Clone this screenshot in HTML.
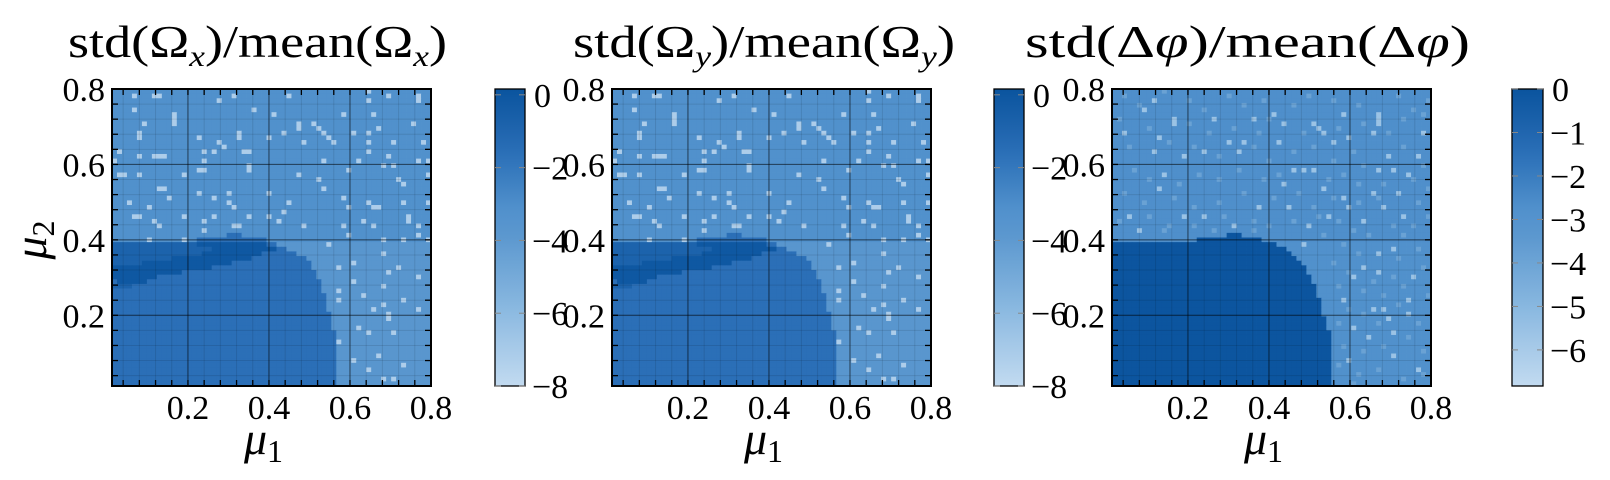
<!DOCTYPE html>
<html><head><meta charset="utf-8">
<style>
html,body{margin:0;padding:0;background:#fff;}
svg{display:block;}
svg text{font-family:"Liberation Serif","DejaVu Serif",serif;}
</style></head>
<body>
<svg id="chart" width="1610" height="480" viewBox="0 0 1610 480" xmlns="http://www.w3.org/2000/svg">
<g id="titles">
<text x="68" y="57" font-size="46" textLength="379" lengthAdjust="spacingAndGlyphs">std(Ω<tspan font-style="italic" font-size="30" dy="9">x</tspan><tspan dy="-9">)/mean(Ω</tspan><tspan font-style="italic" font-size="30" dy="9">x</tspan><tspan dy="-9">)</tspan></text>
<text x="573" y="57" font-size="46" textLength="382" lengthAdjust="spacingAndGlyphs">std(Ω<tspan font-style="italic" font-size="30" dy="9">y</tspan><tspan dy="-9">)/mean(Ω</tspan><tspan font-style="italic" font-size="30" dy="9">y</tspan><tspan dy="-9">)</tspan></text>
<text x="1025" y="57" font-size="46" textLength="445" lengthAdjust="spacingAndGlyphs">std(Δ<tspan font-style="italic">φ</tspan>)/mean(Δ<tspan font-style="italic">φ</tspan>)</text>
</g>
<text transform="translate(46,240) rotate(-90)" text-anchor="middle" font-size="46" font-style="italic">μ<tspan font-style="normal" font-size="32" dy="8">2</tspan></text>
</svg>
<script>
// ---- data ----
const mu1Min = 0.0125, mu1Max = 0.8, mu2Min = 0.0125, mu2Max = 0.8;
const nCols = 64, nRows = 64;
const xTicks = [0.2, 0.4, 0.6, 0.8];
const yTicks = [0.2, 0.4, 0.6, 0.8];
const xTickLabels = ["0.2", "0.4", "0.6", "0.8"];
const yTickLabels = ["0.2", "0.4", "0.6", "0.8"];
const cbTicks12 = [0, -2, -4, -6, -8];
const cbTicks3 = [0, -1, -2, -3, -4, -5, -6];
const cbRange12 = [-8, 0.16];
const cbRange3 = [-6.83, 0];
// region values (log scale)
const levels1 = {bg: -3.2, right: -3.7, dark: -1.64, mid: -0.82, darkest: -0.1, speck: -7.2};
const levels3 = {bg: -2.7, right: -2.8, dark: -0.08, mid: -0.08, darkest: -0.08, speck: -5.6, mild: -3.9};
const darkFirstRow = 31;
const darkStart1 = [23,17,0,0,0,0,0,0,0,0,0,0,0,0,0,0,0,0,0,0,0,0,0,0,0,0,0,0,0,0,0,0,0];
const darkEnd1 = [26,31,33,35,37,39,40,40,41,41,42,42,42,43,43,43,43,44,44,44,44,45,45,45,45,45,45,45,45,45,45,45,45];
const darkStart3 = [23,17,0,0,0,0,0,0,0,0,0,0,0,0,0,0,0,0,0,0,0,0,0,0,0,0,0,0,0,0,0,0,0];
const darkEnd3 = [26,30,33,35,36,37,38,39,39,40,40,41,41,41,42,42,42,42,43,43,43,44,44,44,44,44,44,44,44,44,44,44,44];
const streak1 = [[33,17,31],[34,20,33],[35,18,30],[36,12,28],[37,6,24],[38,0,20],[39,0,14],[40,0,9],[41,1,7]];
const mid1 = [[33,0,17],[34,0,20],[35,0,18],[36,0,12],[37,0,6],[42,0,4]];
const specks1 = [[4,1],[8,1],[9,1],[4,4],[12,5],[12,6],[12,7],[6,7],[21,2],[24,1],[28,4],[32,5],[35,1],[37,7],[37,8],[40,7],[41,8],[42,9],[43,10],[44,11],
[51,0],[51,2],[55,1],[61,1],[61,2],[52,5],[60,7],[46,5],[48,9],[51,9],[53,8],[51,11],[56,11],[62,11],
[5,10],[5,9],[17,10],[21,11],[25,9],[25,10],[31,10],[34,9],[38,11],
[1,13],[8,14],[9,14],[10,14],[5,14],[18,13],[20,13],[22,12],[26,13],[27,13],[18,15],[42,15],[49,15],[51,13],[55,14],[61,15],[63,15],
[0,15],[1,18],[2,18],[5,18],[14,18],[17,17],[18,17],[27,17],[27,16],[37,18],[41,19],[47,17],[54,16],[56,16],[57,19],[58,20],[63,18],
[9,21],[10,21],[11,23],[7,25],[17,22],[20,23],[23,22],[23,24],[24,25],[31,22],[35,24],[42,21],[46,23],[47,25],[51,24],[52,25],[53,25],[58,24],[63,24],
[3,24],[4,27],[5,27],[8,28],[9,29],[14,27],[18,28],[20,27],[24,29],[25,29],[27,27],[31,27],[33,28],[34,26],[38,29],[46,29],[50,28],[52,29],[59,27],[59,28],[61,29],
[7,32],[14,32],[18,30],[47,31],[54,32],[58,32],[61,31],[63,32],
[43,33],[45,38],[48,37],[54,35],[57,38],[55,39],[61,40],[48,41],[45,43],[45,45],[50,44],[54,42],[58,45],[52,47],[54,46],[55,48],[61,47],[55,49],[49,51],[51,52],[56,52],[45,54],[48,58],[53,57],[51,60],[58,59],[56,62],[54,62]];
const specks2 = specks1;
const specks3 = [[8,2],[12,6],[12,7],[20,6],[28,6],[32,5],[34,7],[40,7],[41,8],[42,9],[47,10],[53,5],[53,6],[53,7],[52,9],[46,5],[44,11],[33,11],[26,11],[23,11],
[8,13],[18,13],[25,13],[38,17],[40,17],[36,17],[42,21],[34,20],[46,23],[47,25],[43,27],[39,29],[38,33],[14,27],[18,27],[24,29],[29,25],[35,25],[50,28],[55,14],[53,17],[56,17],[59,18],[54,25],[58,27],[57,22],[52,22],[61,14],[62,9],[6,4],[2,9],[9,21],[10,18],[14,14],[9,10],[5,30],[3,27],
[52,47],[54,47],[55,49],[48,40],[50,38],[59,45],[60,40],[46,45],[51,53],[56,57],[61,60],[47,58],[56,52],[59,48],[48,51],[53,39],[53,35],[56,34]];
const mild3 = [[2,1],[5,3],[10,0],[15,2],[18,4],[23,1],[26,3],[30,2],[36,3],[39,1],[44,2],[49,3],[57,1],[60,4],[63,2],[1,6],[7,8],[15,7],[19,9],[24,8],[29,9],[31,6],[38,9],[45,8],[50,7],[55,9],[58,6],[62,5],
[3,12],[11,11],[16,12],[21,14],[28,12],[31,15],[36,13],[40,12],[44,15],[48,13],[50,16],[58,12],[62,16],[4,17],[7,19],[13,20],[17,18],[21,19],[25,17],[30,19],[33,18],[43,19],[46,18],[49,20],[54,20],[60,19],[63,21],
[2,22],[6,24],[12,23],[16,25],[21,24],[26,22],[32,23],[37,22],[40,25],[44,23],[49,24],[53,23],[61,24],[1,28],[7,27],[11,29],[16,29],[22,27],[28,28],[31,29],[36,28],[41,27],[45,28],[48,30],[56,29],[60,29],[63,27],
[10,30],[20,30],[28,30],[42,31],[51,31],[58,31],[46,33],[49,35],[57,36],[61,34],[44,37],[47,39],[52,41],[56,40],[62,38],[45,42],[50,43],[54,44],[58,42],[63,44],[47,47],[50,48],[57,46],[61,50],[45,50],[53,50],[59,53],[46,55],[50,56],[54,55],[62,56],[45,59],[49,61],[53,60],[58,62],[62,61],[48,63]];

// ---- layout ----
const panels = [
  {id:'omega-x', left:112, top:89, w:319, h:297, cbX:495, cbW:30, range:cbRange12, ticks:cbTicks12, lev:levels1, dS:darkStart1, dE:darkEnd1, streak:streak1, mid:mid1, specks:specks1, mild:[]},
  {id:'omega-y', left:612, top:89, w:319, h:297, cbX:994, cbW:30, range:cbRange12, ticks:cbTicks12, lev:levels1, dS:darkStart1, dE:darkEnd1, streak:streak1, mid:mid1, specks:specks2, mild:[]},
  {id:'delta-phi', left:1112, top:89, w:319, h:297, cbX:1512, cbW:31, range:cbRange3, ticks:cbTicks3, lev:levels3, dS:darkStart3, dE:darkEnd3, streak:[], mid:[], specks:specks3, mild:mild3}
];
const stops = [[0,[194,218,240]],[0.25,[140,186,225]],[0.5,[92,152,207]],[0.6,[80,144,204]],[0.78,[43,111,183]],[1,[10,84,158]]];
function cmap(t){
  t=Math.max(0,Math.min(1,t));
  for(let i=1;i<stops.length;i++){
    if(t<=stops[i][0]){
      const a=stops[i-1],b=stops[i],f=(t-a[0])/(b[0]-a[0]);
      const c=a[1].map((v,k)=>Math.round(v+(b[1][k]-v)*f));
      return 'rgb('+c.join(',')+')';
    }
  }
  return 'rgb(10,84,158)';
}
const NS='http://www.w3.org/2000/svg';
const svg=document.getElementById('chart');
function mk(tag,attrs,parent){const e=document.createElementNS(NS,tag);for(const k in attrs)e.setAttribute(k,attrs[k]);(parent||svg).appendChild(e);return e;}

panels.forEach(p=>{
  const xS=v=>p.left+(v-mu1Min)/(mu1Max-mu1Min)*p.w;
  const yS=v=>p.top+(mu2Max-v)/(mu2Max-mu2Min)*p.h;
  const cS=v=>p.top+(p.range[1]-v)/(p.range[1]-p.range[0])*p.h;
  const colorOf=v=>cmap((v-p.range[0])/(p.range[1]-p.range[0]));
  const grid=[];
  for(let r=0;r<nRows;r++){grid.push(new Array(nCols).fill(p.lev.bg));}
  for(let i=0;i<p.dE.length;i++){
    const r=darkFirstRow+i;
    for(let c=0;c<nCols;c++){
      if(c>=p.dS[i]&&c<p.dE[i]) grid[r][c]=p.lev.dark;
      else if(i>=2&&c>=p.dE[i]) grid[r][c]=p.lev.right;
    }
  }
  p.mid.forEach(s=>{for(let c=s[1];c<s[2];c++)grid[s[0]][c]=p.lev.mid;});
  p.streak.forEach(s=>{for(let c=s[1];c<s[2];c++)grid[s[0]][c]=p.lev.darkest;});
  p.mild.forEach(s=>{if(grid[s[1]][s[0]]!==p.lev.dark)grid[s[1]][s[0]]=p.lev.mild;});
  p.specks.forEach(s=>{grid[s[1]][s[0]]=p.lev.speck;});
  const g=mk('g',{});
  
  
  const step=(mu1Max-mu1Min)/nCols, stepY=(mu2Max-mu2Min)/nRows;
  for(let r=0;r<nRows;r++){
    for(let c=0;c<nCols;c++){
      const x0=xS(mu1Min+c*step), x1=xS(mu1Min+(c+1)*step);
      const y0=yS(mu2Max-r*stepY), y1=yS(mu2Max-(r+1)*stepY);
      const rc=mk('rect',{x:x0.toFixed(2),y:y0.toFixed(2),width:(x1-x0+0.4).toFixed(2),height:(y1-y0+0.4).toFixed(2),fill:colorOf(grid[r][c])},g);
      
      
    }
  }
  for(let k=1;k<20;k++){
    const v=k*0.04; if(v<mu1Min) continue;
    const major=Math.abs(v/0.2-Math.round(v/0.2))<1e-6;
    const x=xS(v), y=yS(v);
    const st=major?'rgba(0,0,0,0.6)':'rgba(0,0,0,0.1)';
    if(v<0.799){
      const l1=mk('line',{x1:x,x2:x,y1:p.top,y2:p.top+p.h,stroke:st,'stroke-width':1});
      
      
      const l2=mk('line',{x1:p.left,x2:p.left+p.w,y1:y,y2:y,stroke:st,'stroke-width':1});
      
      
    }
    const tl=6;
    [[x,p.top+p.h,x,p.top+p.h-tl],[x,p.top,x,p.top+tl],[p.left,y,p.left+tl,y],[p.left+p.w,y,p.left+p.w-tl,y]].forEach(t=>{
      const tk=mk('line',{x1:t[0],y1:t[1],x2:t[2],y2:t[3],stroke:'#000','stroke-width':1.3});
      
      
    });
  }
  const fr=mk('rect',{x:p.left,y:p.top,width:p.w,height:p.h,fill:'none',stroke:'#000','stroke-width':2});
  
  
  xTicks.forEach((v,i)=>{
    const t=mk('text',{x:xS(v),y:419,'text-anchor':'middle','font-size':34});
    t.textContent=xTickLabels[i];
    
    
  });
  yTicks.forEach((v,i)=>{
    const t=mk('text',{x:p.left-7,y:yS(v)+12,'text-anchor':'end','font-size':34});
    t.textContent=yTickLabels[i];
    
    
  });
  const xl=mk('text',{x:p.left+p.w/2-8,y:454,'text-anchor':'middle','font-size':46,'font-style':'italic'});
  xl.textContent='μ';
  const sub=mk('tspan',{'font-style':'normal','font-size':32,dy:8},xl); sub.textContent='1';
  
  
  const defs=mk('defs',{});
  const gr=mk('linearGradient',{id:'grad-'+p.id,x1:0,y1:1,x2:0,y2:0},defs);
  for(let k=0;k<=20;k++){mk('stop',{offset:k/20,'stop-color':cmap(k/20)},gr);}
  const cb=mk('rect',{x:p.cbX,y:p.top,width:p.cbW,height:p.h,fill:'url(#grad-'+p.id+')',stroke:'#000','stroke-width':1.3});
  
  
  p.ticks.forEach(v=>{
    const y=cS(v);
    [[p.cbX,p.cbX+6],[p.cbX+p.cbW-6,p.cbX+p.cbW]].forEach(s=>{
      const l=mk('line',{x1:s[0],x2:s[1],y1:y,y2:y,stroke:'#888','stroke-width':1});
      
      
    });
    const t=mk('text',{x:p.cbX+p.cbW+(v===0?9:7),y:y+12,'font-size':34});
    t.textContent=(v<0?'\u2212':'')+Math.abs(v);
    
    
  });
});
</script>
</body></html>
